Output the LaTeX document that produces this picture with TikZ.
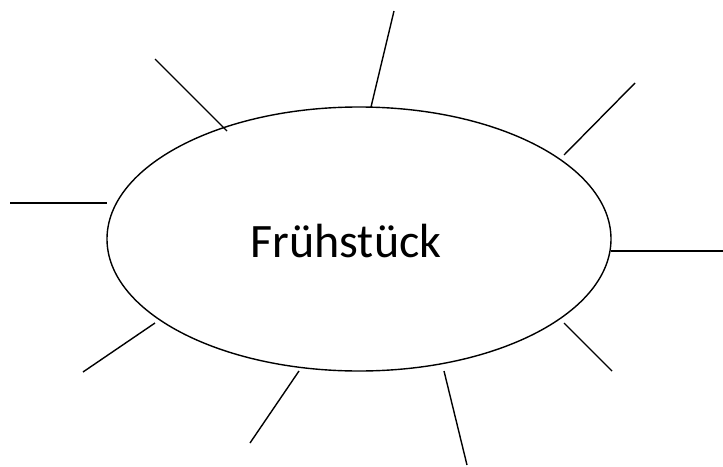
\documentclass[tikz,border=0pt]{standalone}
\usepackage{fontspec}
\setmainfont{Carlito}
\usetikzlibrary{shapes.geometric}
\begin{document}
\begin{tikzpicture}[x=1pt,y=-1pt,
  ray/.style={line width=1.4pt, black},
  blob/.style={draw, line width=1.4pt, ellipse, minimum width=504pt, minimum height=264pt, inner sep=0pt}]
\useasboundingbox (0,0) rectangle (723,466);
\node[blob] (e) at (359,239) {};
\node[font=\fontsize{48}{52}\selectfont] (t) at (346,241) {Frühstück};
\coordinate (a1) at (394,11);  \coordinate (b1) at (371,107);
\coordinate (a2) at (635,83);  \coordinate (b2) at (564,155);
\coordinate (a3) at (723,251); \coordinate (b3) at (611,251);
\coordinate (a4) at (612,371); \coordinate (b4) at (564,323);
\coordinate (a5) at (467,465); \coordinate (b5) at (444,371);
\coordinate (a6) at (250,443); \coordinate (b6) at (299,371);
\coordinate (a7) at (83,372);  \coordinate (b7) at (155,323);
\coordinate (a8) at (10,203);  \coordinate (b8) at (107,203);
\coordinate (a9) at (155,59);  \coordinate (b9) at (227,131);
\foreach \i in {1,...,9} \draw[ray] (a\i) -- (b\i);
\end{tikzpicture}
\end{document}
